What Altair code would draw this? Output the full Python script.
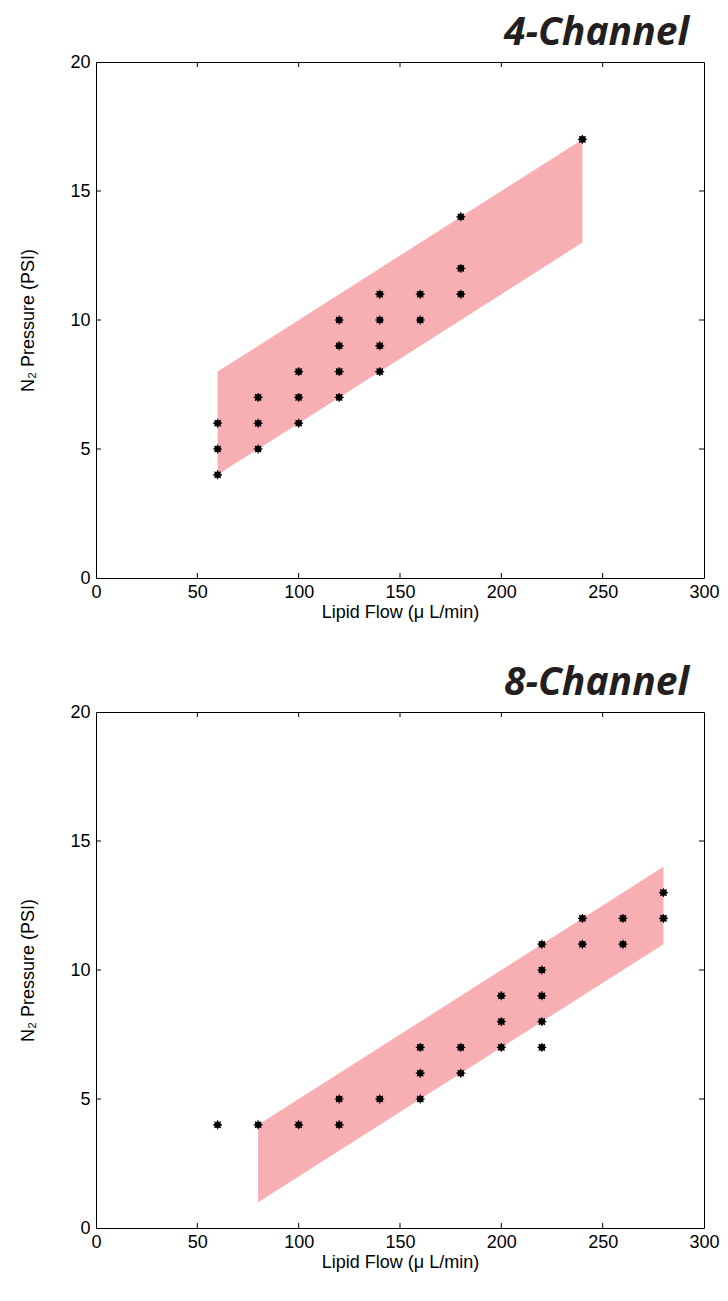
import altair as alt
import pandas as pd

# ---- data ----
flow4 = [60, 60, 60, 80, 80, 80, 100, 100, 100, 120, 120, 120, 120,
         140, 140, 140, 140, 160, 160, 180, 180, 180, 240]
press4 = [4, 5, 6, 5, 6, 7, 6, 7, 8, 7, 8, 9, 10,
          8, 9, 10, 11, 10, 11, 11, 12, 14, 17]

flow8 = [60, 80, 100, 120, 120, 140, 160, 160, 160, 180, 180,
         200, 200, 200, 220, 220, 220, 220, 220, 240, 240, 260, 260, 280, 280]
press8 = [4, 4, 4, 4, 5, 5, 5, 6, 7, 6, 7,
          7, 8, 9, 7, 8, 9, 10, 11, 11, 12, 11, 12, 12, 13]

band4_x = [60, 240]
band4_low = [4, 13]
band4_high = [8, 17]

band8_x = [80, 280]
band8_low = [1, 11]
band8_high = [4, 14]

x_ticks = [0, 50, 100, 150, 200, 250, 300]
y_ticks = [0, 5, 10, 15, 20]
inner_x_ticks = [50, 100, 150, 200, 250]
inner_y_ticks = [5, 10, 15]

titles = ["4-Channel", "8-Channel"]

W, H = 608, 516
BAND_COLOR = "#F7AFB3"
ASTERISK = "M-1,0L1,0M0,-1L0,1M-0.7,-0.7L0.7,0.7M-0.7,0.7L0.7,-0.7"

xscale = alt.Scale(domain=[0, 300], nice=False, zero=False)
yscale = alt.Scale(domain=[0, 20], nice=False, zero=False)


def panel(title, flow, press, bx, blo, bhi):
    pts = pd.DataFrame({"flow": flow, "press": press})
    band = pd.DataFrame({"flow": bx, "lo": blo, "hi": bhi})
    xt = pd.DataFrame({"v": inner_x_ticks})
    yt = pd.DataFrame({"v": inner_y_ticks})

    x_axis = alt.Axis(values=x_ticks, ticks=False, domain=False, grid=False,
                      labelFlush=False, labelOverlap=False, labelPadding=5,
                      labelFont="Liberation Sans", labelFontSize=18, labelColor="black",
                      title="Lipid Flow (\u03bc L/min)", titlePadding=2,
                      titleFont="Liberation Sans", titleFontSize=18,
                      titleFontWeight="normal", titleColor="black")
    y_axis = alt.Axis(values=y_ticks, ticks=False, domain=False, grid=False,
                      labelFlush=False, labelOverlap=False, labelPadding=6,
                      labelFont="Liberation Sans", labelFontSize=18, labelColor="black",
                      title="N\u2082 Pressure (PSI)", titlePadding=32,
                      titleFont="Liberation Sans", titleFontSize=18,
                      titleFontWeight="normal", titleColor="black")

    area = alt.Chart(band).mark_area(color=BAND_COLOR, opacity=1).encode(
        x=alt.X("flow:Q", scale=xscale, axis=x_axis),
        y=alt.Y("lo:Q", scale=yscale, axis=y_axis),
        y2="hi:Q",
    )
    dots = alt.Chart(pts).mark_point(shape="circle", filled=True, color="black",
                                     size=44, opacity=1).encode(
        x=alt.X("flow:Q", scale=xscale),
        y=alt.Y("press:Q", scale=yscale),
    )
    stars = alt.Chart(pts).mark_point(shape=ASTERISK, filled=False, color="black",
                                      size=80, strokeWidth=1.2, opacity=1).encode(
        x=alt.X("flow:Q", scale=xscale),
        y=alt.Y("press:Q", scale=yscale),
    )
    tb = alt.Chart(xt).mark_rule(color="black", strokeWidth=1).encode(
        x=alt.X("v:Q", scale=xscale), y=alt.value(H), y2=alt.value(H - 5))
    tt = alt.Chart(xt).mark_rule(color="black", strokeWidth=1).encode(
        x=alt.X("v:Q", scale=xscale), y=alt.value(0), y2=alt.value(5))
    tl = alt.Chart(yt).mark_rule(color="black", strokeWidth=1).encode(
        y=alt.Y("v:Q", scale=yscale), x=alt.value(0), x2=alt.value(5))
    tr = alt.Chart(yt).mark_rule(color="black", strokeWidth=1).encode(
        y=alt.Y("v:Q", scale=yscale), x=alt.value(W), x2=alt.value(W - 5))

    return alt.layer(area, dots, stars, tb, tt, tl, tr).properties(
        width=W, height=H,
        title=alt.TitleParams(text=title, anchor="end", fontSize=39,
                              font="Open Sans", fontStyle="italic",
                              fontWeight="bold", color="#231F20",
                              dx=-30, offset=0),
    )


chart = alt.vconcat(
    panel(titles[0], flow4, press4, band4_x, band4_low, band4_high),
    panel(titles[1], flow8, press8, band8_x, band8_low, band8_high),
    spacing=41,
).properties(
    background="white",
    padding={"left": 11, "top": 5, "right": 0, "bottom": 0},
).configure_view(stroke="black", strokeWidth=1)

chart.save("out.html", embed_options={"renderer": "svg", "actions": False})
